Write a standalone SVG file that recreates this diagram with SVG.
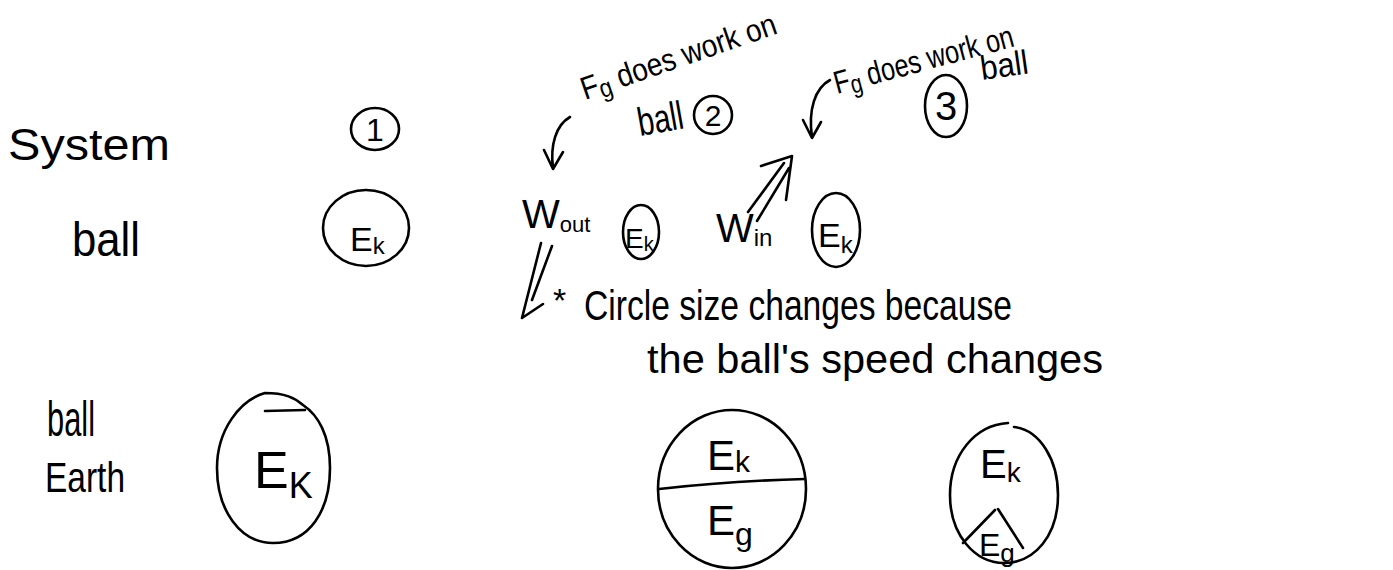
<svg xmlns="http://www.w3.org/2000/svg" width="1393" height="570" viewBox="0 0 1393 570">
<style>
text{font-family:"Liberation Sans","DejaVu Sans",sans-serif;fill:#000}
.sh{fill:none;stroke:#000;stroke-width:2.6;stroke-linecap:round;stroke-linejoin:round}
.ln{fill:none;stroke:#000;stroke-width:2.6;stroke-linecap:round;stroke-linejoin:round}
</style>
<rect width="1393" height="570" fill="#fff"/>

<g id="label-system"><text x="8" y="160" font-size="44" textLength="162" lengthAdjust="spacingAndGlyphs">System</text></g>
<g id="label-ball"><text x="72" y="256" font-size="48" textLength="68" lengthAdjust="spacingAndGlyphs">ball</text></g>
<g id="label-ball-earth">
<text x="47" y="436" font-size="50" textLength="48" lengthAdjust="spacingAndGlyphs">ball</text>
<text x="45" y="492" font-size="42" textLength="80" lengthAdjust="spacingAndGlyphs">Earth</text>
</g>

<g id="num1"><ellipse class="sh" cx="375" cy="129" rx="24" ry="21"/><text x="375" y="141" font-size="32" text-anchor="middle">1</text></g>
<g id="num2"><ellipse class="sh" cx="713" cy="115" rx="19" ry="19"/><text x="713" y="126" font-size="30" text-anchor="middle">2</text></g>
<g id="num3"><ellipse class="sh" cx="946" cy="106" rx="21" ry="31"/><text x="946" y="120" font-size="40" text-anchor="middle">3</text></g>

<g id="note2">
<text x="585" y="100" font-size="32" transform="rotate(-19 585 100)" textLength="205" lengthAdjust="spacingAndGlyphs">F<tspan font-size="26" dy="4">g</tspan><tspan dy="-4"> does work on</tspan></text>
<text x="640" y="136" font-size="40" transform="rotate(-10 640 136)" textLength="46" lengthAdjust="spacingAndGlyphs">ball</text>
</g>
<g id="note3">
<text x="837" y="94" font-size="32" transform="rotate(-15 837 94)" textLength="185" lengthAdjust="spacingAndGlyphs">F<tspan font-size="26" dy="4">g</tspan><tspan dy="-4"> does work on</tspan></text>
<text x="982" y="80" font-size="34" transform="rotate(-8 982 80)" textLength="48" lengthAdjust="spacingAndGlyphs">ball</text>
</g>

<g id="ek1"><ellipse class="sh" cx="366" cy="228" rx="43" ry="38"/><text x="350" y="251" font-size="34">E<tspan font-size="24" dy="3">k</tspan></text></g>
<g id="ek2"><ellipse class="sh" cx="641" cy="232" rx="18" ry="27"/><text x="625" y="248" font-size="28">E<tspan font-size="20" dy="3">k</tspan></text></g>
<g id="ek3"><ellipse class="sh" cx="836" cy="230" rx="24" ry="37"/><text x="818" y="247" font-size="34">E<tspan font-size="24" dy="6">k</tspan></text></g>

<g id="w-out"><text x="522" y="228" font-size="40">W<tspan font-size="22" dy="4">out</tspan></text></g>
<g id="w-in"><text x="716" y="242" font-size="40">W<tspan font-size="24" dy="4">in</tspan></text></g>

<g id="note-size">
<text x="553" y="312" font-size="34">*</text>
<text x="584" y="320" font-size="42" textLength="428" lengthAdjust="spacingAndGlyphs">Circle size changes because</text>
<text x="647" y="373" font-size="40" textLength="456" lengthAdjust="spacingAndGlyphs">the ball's speed changes</text>
</g>

<g id="big1">
<path class="sh" d="M265,393 C240,400 217,430 217,468 C217,510 240,543 273,543 C310,543 330,510 330,468 C330,435 318,415 303,405 C295,398 285,393 265,393 Z"/>
<path class="ln" d="M265,411 L305,410"/>
<text x="254" y="488" font-size="52">E<tspan font-size="36" dy="10">K</tspan></text>
</g>
<g id="big2">
<ellipse class="sh" cx="732" cy="489" rx="74" ry="79"/>
<path class="ln" d="M659,489 Q730,481 805,479"/>
<text x="707" y="470" font-size="42">E<tspan font-size="30" dy="2">k</tspan></text>
<text x="707" y="535" font-size="42">E<tspan font-size="32" dy="10">g</tspan></text>
</g>
<g id="big3">
<path class="sh" d="M1008,423 C975,425 950,455 950,495 C950,535 975,563 1004,563 C1035,563 1058,535 1058,495 C1058,460 1040,430 1014,427"/>
<path class="ln" d="M995,510 L963,543 M998,509 L1023,548"/>
<text x="980" y="478" font-size="40">E<tspan font-size="28" dy="4">k</tspan></text>
<text x="979" y="556" font-size="32">E<tspan font-size="26" dy="6">g</tspan></text>
</g>

<g id="connectors">
<path class="ln" d="M570,117 C556,125 550,145 553,168 M544,150 L553,169 L563,152"/>
<path class="ln" d="M830,80 C815,88 808,110 812,137 M803,120 L812,138 L821,122"/>
<path class="ln" d="M748,212 L784,163 M757,221 L789,168 M761,166 L792,156 L786,200"/>
<path class="ln" d="M541,243 L522,318 M552,246 L532,300 M522,318 L543,304"/>
</g>
</svg>
